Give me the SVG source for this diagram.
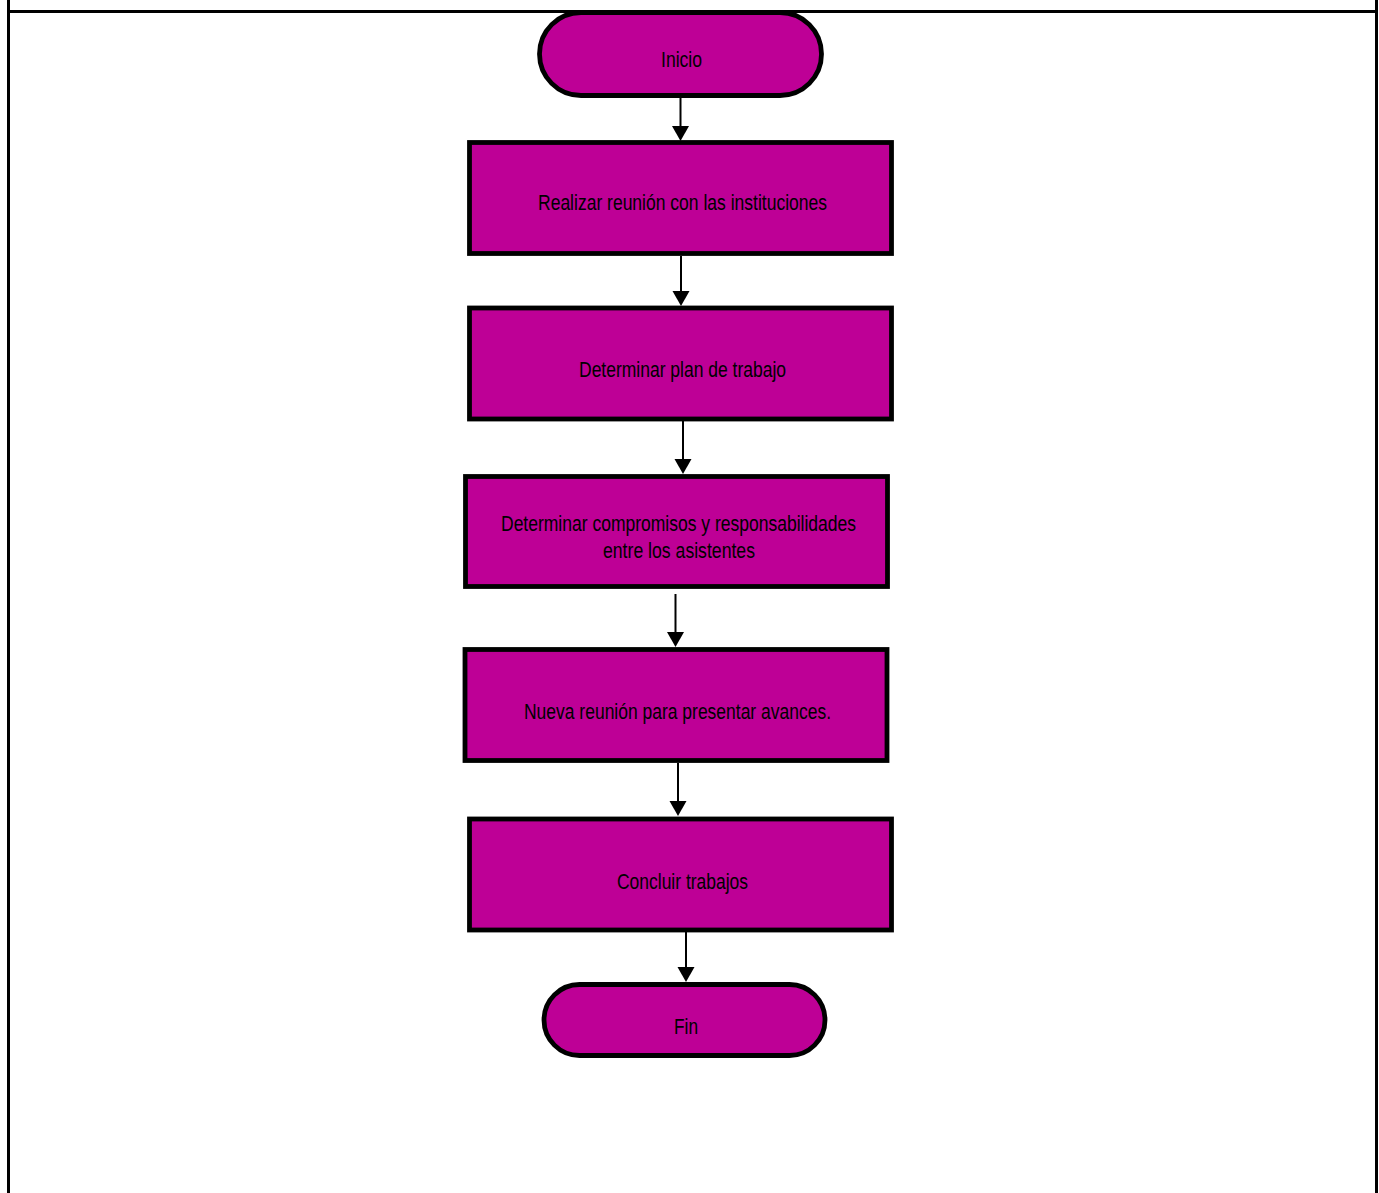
<svg xmlns="http://www.w3.org/2000/svg" width="1379" height="1193" viewBox="0 0 1379 1193">
<style>
.frame{stroke:#000;stroke-width:3;fill:none}
.node{fill:#BE0096;stroke:#000;stroke-width:4.8}
.lbl{font-family:"Liberation Sans Narrow","Liberation Sans",Arial,sans-serif;font-size:22px;fill:#000;text-anchor:middle}
.conn line{stroke:#000;stroke-width:2}
.conn polygon{fill:#000}
</style>
<rect width="1379" height="1193" fill="#fff"/>
<g id="frame">
<line class="frame" x1="8.5" y1="0" x2="8.5" y2="1193"/>
<line class="frame" x1="1376.5" y1="0" x2="1376.5" y2="1193"/>
<line class="frame" x1="8.5" y1="11.5" x2="1376.5" y2="11.5"/>
</g>
<g id="connectors" class="conn">
<line x1="680.5" y1="97" x2="680.5" y2="128"/><polygon points="672,126 689,126 680.5,141"/>
<line x1="681" y1="256" x2="681" y2="293"/><polygon points="672.5,291 689.5,291 681,306"/>
<line x1="683" y1="421" x2="683" y2="461"/><polygon points="674.5,459 691.5,459 683,474"/>
<line x1="675.5" y1="594" x2="675.5" y2="634"/><polygon points="667,632 684,632 675.5,647"/>
<line x1="678" y1="763" x2="678" y2="803"/><polygon points="669.5,801 686.5,801 678,816"/>
<line x1="686" y1="932" x2="686" y2="969"/><polygon points="677.5,967 694.5,967 686,982"/>
</g>
<g id="inicio">
<rect class="node" x="539.5" y="12.5" width="282" height="83" rx="41.5"/>
<text class="lbl" x="681.5" y="67" textLength="41" lengthAdjust="spacingAndGlyphs">Inicio</text>
</g>
<g id="n1">
<rect class="node" x="469.5" y="142.5" width="422" height="111"/>
<text class="lbl" x="682.5" y="210" textLength="289" lengthAdjust="spacingAndGlyphs">Realizar reunión con las instituciones</text>
</g>
<g id="n2">
<rect class="node" x="469.5" y="308" width="422" height="111"/>
<text class="lbl" x="682.5" y="377" textLength="207" lengthAdjust="spacingAndGlyphs">Determinar plan de trabajo</text>
</g>
<g id="n3">
<rect class="node" x="465.5" y="476.5" width="422" height="110"/>
<text class="lbl" x="678.5" y="531" textLength="355" lengthAdjust="spacingAndGlyphs">Determinar compromisos y responsabilidades</text>
<text class="lbl" x="679" y="558" textLength="152" lengthAdjust="spacingAndGlyphs">entre los asistentes</text>
</g>
<g id="n4">
<rect class="node" x="465" y="649.5" width="422" height="111"/>
<text class="lbl" x="677.5" y="719" textLength="307" lengthAdjust="spacingAndGlyphs">Nueva reunión para presentar avances.</text>
</g>
<g id="n5">
<rect class="node" x="469.5" y="819" width="422" height="111"/>
<text class="lbl" x="682.5" y="889" textLength="131" lengthAdjust="spacingAndGlyphs">Concluir trabajos</text>
</g>
<g id="fin">
<rect class="node" x="544" y="984.5" width="281" height="71" rx="35.5"/>
<text class="lbl" x="686" y="1034" textLength="24" lengthAdjust="spacingAndGlyphs">Fin</text>
</g>
</svg>
